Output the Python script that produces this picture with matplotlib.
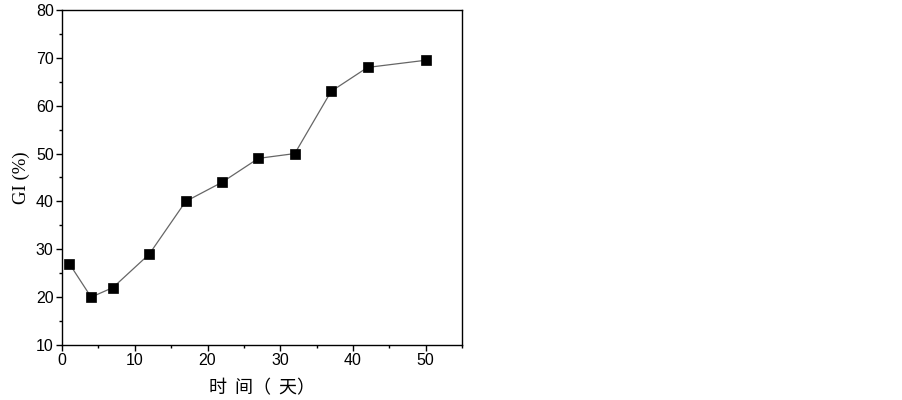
import matplotlib
matplotlib.use("Agg")
import matplotlib.pyplot as plt
from matplotlib.ticker import MultipleLocator

# data
days = [1, 4, 7, 12, 17, 22, 27, 32, 37, 42, 50]
gi = [27, 20, 22, 29, 40, 44, 49, 50, 63, 68, 69.5]

x_label = "时  间（  天）"
y_label = "GI (%)"

fig = plt.figure(figsize=(9.03, 4.00), dpi=100)
ax = fig.add_axes([0.0687, 0.1375, 0.443, 0.8375])

ax.plot(days, gi, color="#666666", linewidth=0.9, marker="s", markersize=6.5,
        markerfacecolor="black", markeredgecolor="black", markeredgewidth=0.5)

ax.set_xlim(0, 55)
ax.set_ylim(10, 80)
ax.xaxis.set_major_locator(MultipleLocator(10))
ax.xaxis.set_minor_locator(MultipleLocator(5))
ax.yaxis.set_major_locator(MultipleLocator(10))
ax.yaxis.set_minor_locator(MultipleLocator(5))

ax.tick_params(which="both", direction="out", top=False, right=False,
               width=1.0, labelsize=11.5, pad=2)
ax.tick_params(which="major", length=4)
ax.tick_params(which="minor", length=2.5)
for lbl in ax.get_xticklabels() + ax.get_yticklabels():
    lbl.set_fontfamily("Liberation Sans")
for s in ax.spines.values():
    s.set_linewidth(1.0)

ax.set_ylabel(y_label, family="Liberation Serif", fontsize=13.5, labelpad=4)
ax.set_xlabel(x_label, family=["Noto Sans CJK SC", "DejaVu Sans"], fontsize=13,
              labelpad=8)

fig.savefig("out.png", dpi=100, facecolor="white")
